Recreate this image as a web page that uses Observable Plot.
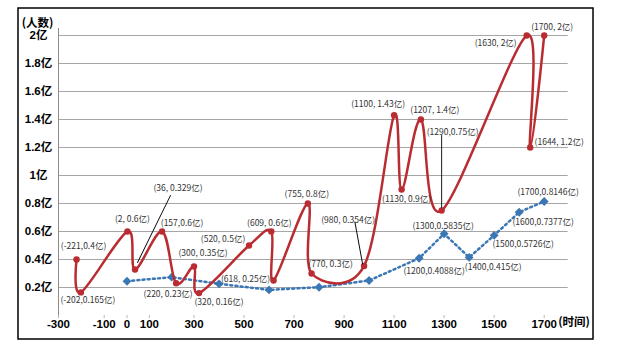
<!DOCTYPE html>
<html><head><meta charset="utf-8">
<script src="https://cdn.jsdelivr.net/npm/d3@7"></script>
<script src="https://cdn.jsdelivr.net/npm/@observablehq/plot@0.6"></script>
<style>body{margin:0;background:#fff}#chart{width:622px;height:355px}</style>
</head><body><div id="chart"></div>
<script>
// ---------- data ----------
const redYears  = [-221, -202, 2, 36, 157, 220, 300, 320, 520, 609, 618, 755, 770, 980, 1100, 1130, 1207, 1290, 1630, 1644, 1700];
const redValues = [0.4, 0.165, 0.6, 0.329, 0.6, 0.23, 0.35, 0.16, 0.5, 0.6, 0.25, 0.8, 0.3, 0.354, 1.43, 0.9, 1.4, 0.75, 2, 1.2, 2];
const redLabels = ["(-221,0.4亿)", "(-202,0.165亿)", "(2, 0.6亿)", "(36, 0.329亿)", "(157,0.6亿)", "(220, 0.23亿)",
  "(300, 0.35亿)", "(320, 0.16亿)", "(520, 0.5亿)", "(609, 0.6亿)", "(618, 0.25亿)", "(755, 0.8亿)", "(770, 0.3亿)",
  "(980, 0.354亿)", "(1100, 1.43亿)", "(1130, 0.9亿)", "(1207, 1.4亿)", "(1290,0.75亿)", "(1630, 2亿)", "(1644, 1.2亿)", "(1700, 2亿)"];

const blueYears  = [0, 200, 400, 600, 800, 1000, 1200, 1300, 1400, 1500, 1600, 1700];
const blueValues = [0.245, 0.274, 0.226, 0.183, 0.202, 0.25, 0.4088, 0.5835, 0.415, 0.5726, 0.7377, 0.8146];
const blueLabels = [null, null, null, null, null, null, "(1200,0.4088亿)", "(1300,0.5835亿)", "(1400,0.415亿)",
  "(1500,0.5726亿)", "(1600,0.7377亿)", "(1700,0.8146亿)"];

const xTicks = [-300, -100, 0, 100, 300, 500, 700, 900, 1100, 1300, 1500, 1700];
const yTicks = [0.2, 0.4, 0.6, 0.8, 1, 1.2, 1.4, 1.6, 1.8, 2];
const yTickLabels = ["0.2亿", "0.4亿", "0.6亿", "0.8亿", "1亿", "1.2亿", "1.4亿", "1.6亿", "1.8亿", "2亿"];
const yTitle = "(人数)";
const xTitle = "(时间)";

// ---------- layout (label offsets in px, leader lines) ----------
const redOffsets = [[7,-13],[7,8],[5,-12],[43,-81],[20,-8],[-8,11],[9,-13],[20,9],[-26,-6],[-2,-8],[-28,-1],
  [-1,-9],[19,-9],[-16,-46],[-16,-11],[5,10],[14,-9],[11,-78],[-31,8],[29,-5],[8,-8]];
const blueOffsets = [null,null,null,null,null,null,[15,13],[-1,-8],[24,10],[29,9],[24,10],[4,-9]];
// leader lines: index into red series, start offset, length, rotation
const leaders = [
  {i: 3, dx: 2.5, dy: -7, length: 74.7, rotate: 26.2},
  {i: 13, dx: -1.5, dy: -2, length: 42.5, rotate: -10.4},
  {i: 17, dx: 0, dy: -3, length: 72, rotate: 0}
];

const red = redYears.map((x, i) => ({x, y: redValues[i], label: redLabels[i]}));
const blue = blueYears.map((x, i) => ({x, y: blueValues[i], label: blueLabels[i]}));

const RED = "#b92c31", BLUE = "#3b77b4";
const FONT = "'Liberation Sans', 'Noto Sans CJK SC', sans-serif";
const CJK = "'Noto Sans CJK SC', 'Liberation Sans', sans-serif";

const leaderShape = {draw(context, l) { context.moveTo(0, 0); context.lineTo(0, -l); }};

const labelMarks = [];
red.forEach((d, i) => {
  labelMarks.push(Plot.text([d], {x: "x", y: "y", text: "label", dx: redOffsets[i][0], dy: redOffsets[i][1],
    fontSize: 8.5, fill: "#333", fontFamily: CJK}));
});
blue.forEach((d, i) => {
  if (!d.label) return;
  labelMarks.push(Plot.text([d], {x: "x", y: "y", text: "label", dx: blueOffsets[i][0], dy: blueOffsets[i][1],
    fontSize: 8.5, fill: "#333", fontFamily: CJK}));
});
const leaderMarks = leaders.map(l => Plot.vector([red[l.i]], {x: "x", y: "y", length: l.length, rotate: l.rotate,
  anchor: "start", shape: leaderShape, stroke: "#000", strokeWidth: 0.9, dx: l.dx, dy: l.dy}));

const chart = Plot.plot({
  width: 622, height: 355,
  marginLeft: 58, marginRight: 54.3, marginTop: 28, marginBottom: 40,
  style: {fontFamily: FONT, background: "#fff", overflow: "visible"},
  x: {type: "linear", domain: [-300, 0, 300, 1796], range: [58, 126.5, 193.5, 567.7], axis: null, label: null},
  y: {domain: [0, 2.05], range: [315, 28], axis: null, label: null},
  marks: [
    Plot.ruleY(yTicks, {stroke: "#a6a6a6", strokeWidth: 1}),
    Plot.frame({anchor: "left", stroke: "#8c8c8c"}),
    Plot.axisX(xTicks, {tickSize: 3, tickPadding: 1, stroke: "#b5b5b5", fill: "#000", fontWeight: "bold",
      fontSize: 11.5, tickFormat: d => String(d), fontFamily: FONT, label: null}),
    Plot.text(yTicks, {y: d => d, text: (d, i) => yTickLabels[i], frameAnchor: "left", dx: -20, textAnchor: "middle",
      fontWeight: "bold", fontSize: 11.5, fill: "#000", fontFamily: FONT}),
    Plot.text([yTitle], {text: d => d, frameAnchor: "top-left", dx: -21, dy: -10, textAnchor: "middle",
      fontWeight: "bold", fontSize: 11.5, fill: "#000", fontFamily: CJK}),
    Plot.text([xTitle], {text: d => d, frameAnchor: "bottom-right", dx: -10, dy: 10, textAnchor: "start",
      fontWeight: "bold", fontSize: 11.5, fill: "#000", fontFamily: CJK}),
    Plot.line(blue, {x: "x", y: "y", stroke: BLUE, strokeWidth: 2.5, strokeDasharray: "2,3.2"}),
    Plot.dot(blue, {x: "x", y: "y", symbol: "diamond2", r: 4, fill: BLUE, stroke: "none"}),
    Plot.line(red, {x: "x", y: "y", stroke: RED, strokeWidth: 2.5, curve: "cardinal"}),
    Plot.dot(red, {x: "x", y: "y", r: 3.2, fill: RED, stroke: "none"}),
    ...leaderMarks,
    ...labelMarks
  ]
});

d3.select(chart).append("rect")
  .attr("x", 18).attr("y", 8).attr("width", 575).attr("height", 331)
  .attr("fill", "none").attr("stroke", "#000").attr("stroke-width", 1.5);

document.getElementById("chart").appendChild(chart);
</script>
</body></html>
